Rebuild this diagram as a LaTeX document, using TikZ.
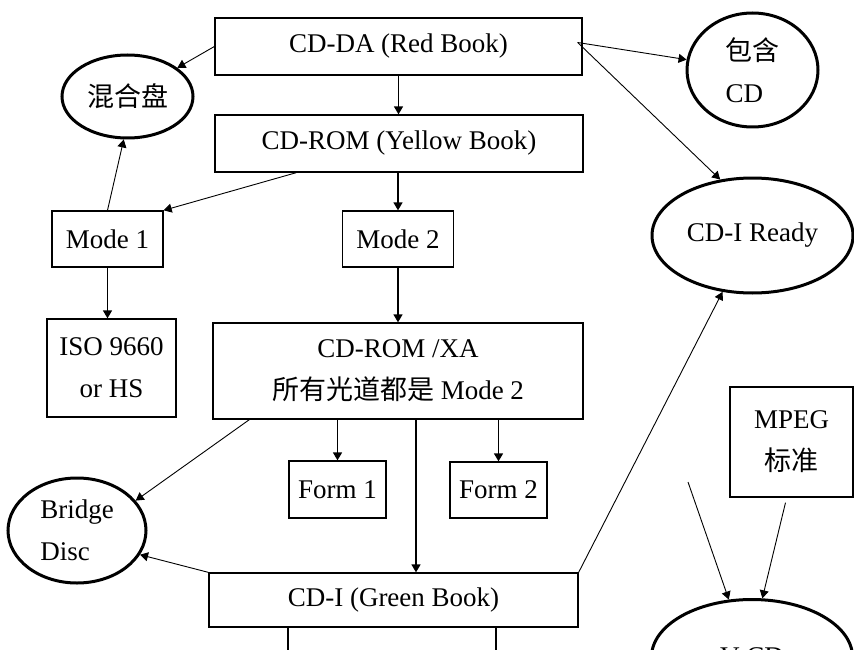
\documentclass[tikz,border=0pt]{standalone}
\usepackage{fontspec}
\setmainfont{Liberation Serif}
\newfontfamily\cjk{Noto Sans CJK SC}
\usetikzlibrary{shapes.geometric,arrows.meta}
\tikzset{
  box/.style={draw,line width=1.3pt,inner sep=0pt,align=center},
  disc/.style={draw,ellipse,line width=3pt,inner sep=0pt},
  feed/.style={line width=1.6pt,-{Triangle[width=9pt,length=8pt]}},
  link/.style={line width=0.9pt,-{Triangle[width=9pt,length=8pt]}},
}

\begin{document}
\begin{tikzpicture}[x=1pt,y=-1pt,font=\fontsize{27}{42}\selectfont]
      \useasboundingbox (0,0) rectangle (854,650);
      \clip (0,0) rectangle (854,650);
      \draw
        (398.5,46.5) node[box,minimum width=367,minimum height=57] (cdda){CD-DA (Red Book)}
        (399,143.5) node[box,minimum width=368,minimum height=57] (cdrom){CD-ROM (Yellow Book)}
        (107.5,239) node[box,minimum width=111,minimum height=56] (mode1){Mode 1}
        (398,239) node[box,minimum width=111,minimum height=56] (mode2){Mode 2}
        (111.5,368) node[box,minimum width=129,minimum height=98] (iso){ISO 9660\\or HS}
        (398,371) node[box,minimum width=370,minimum height=96] (xa){CD-ROM /XA\\{\cjk 所有光道都是} Mode 2}
        (337.5,489.5) node[box,minimum width=97,minimum height=57] (form1){Form 1}
        (498.5,490) node[box,minimum width=97,minimum height=56] (form2){Form 2}
        (393.5,600) node[box,minimum width=369,minimum height=54] (cdi){CD-I (Green Book)}
        (791.5,442) node[box,minimum width=123,minimum height=110] (mpeg){MPEG\\{\cjk 标准}}
        (127.5,96.5) node[disc,minimum width=131,minimum height=83] (hunhe){\cjk 混合盘}
        (752.5,70) node[disc,minimum width=131,minimum height=114,align=left] (baohan){{\cjk 包含}\\CD}
        (752.5,235.5) node[disc,minimum width=201,minimum height=115] (ready){CD-I Ready}
        (77,530.5) node[disc,minimum width=138,minimum height=105,align=left] (bridge){Bridge\\Disc}
        (752,657) node[disc,minimum width=201,minimum height=115] (vcd){V-CD};
      \coordinate (feedin) at (688,482);
      \coordinate (cdiL) at (288,660);
      \coordinate (cdiR) at (496,660);
      % straight down the book chain
      \begin{scope}[feed]
        \draw (cdda.south) to (cdda.south |- cdrom.north);
        \draw (cdrom.south -| mode2) to (mode2.north);
        \draw (mode1.south) to (mode1.south |- iso.north);
        \draw (mode2.south) to (mode2.south |- xa.north);
        \draw (xa.south -| form1) to (form1.north);
        \draw (xa.south -| form2) to (form2.north);
        \draw ([xshift=18pt]xa.south) to ([xshift=18pt]xa.south |- cdi.north);
      \end{scope}
      \begin{scope}[link]
        \draw (cdda.west) to (hunhe);
        \draw ([xshift=-5pt,yshift=4pt]cdda.east) to (baohan);
        \draw ([xshift=-5pt,yshift=4pt]cdda.east) to (ready.120);
        \draw ([xshift=82pt]cdrom.south west) to (mode1.north east);
        \draw (mode1.north) to (hunhe.-95);
        \draw ([xshift=37pt]xa.south west) to (bridge.27);
        \draw (cdi.north west) to (bridge.-21);
        \draw (cdi.north east) to (ready.-118);
        \draw (feedin) to (vcd.112);
        \draw ([xshift=-6pt,yshift=-5pt]mpeg.south) to (vcd.80);
      \end{scope}
      \begin{scope}[line width=1.3pt]
        \draw (cdi.south -| cdiL) to (cdiL);
        \draw (cdi.south -| cdiR) to (cdiR);
      \end{scope}
    \end{tikzpicture}
\end{document}
